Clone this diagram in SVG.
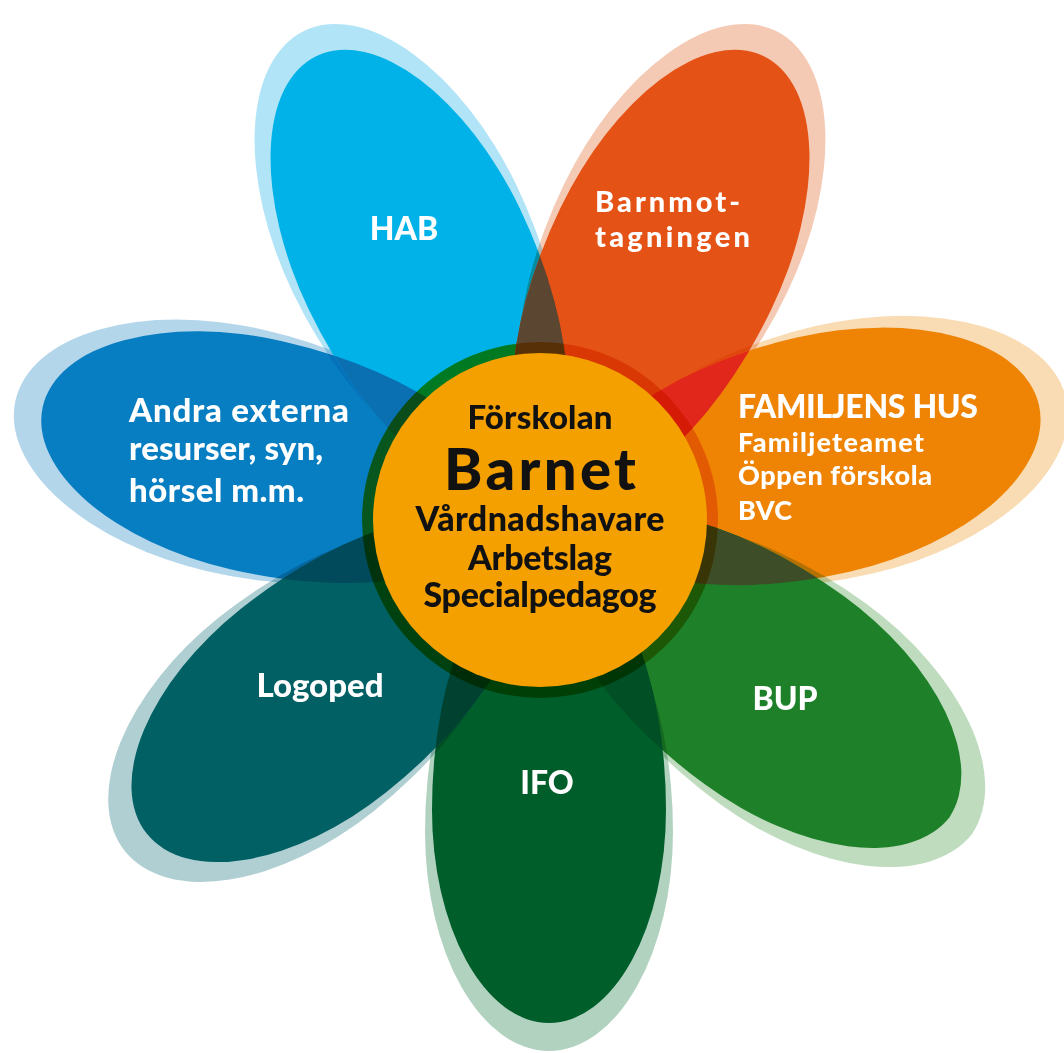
<svg xmlns="http://www.w3.org/2000/svg" xmlns:xlink="http://www.w3.org/1999/xlink" width="1064" height="1053" viewBox="0 0 1064 1053">
<style>
.sh{mix-blend-mode:multiply}
.lbl{font-family:Lato,"Open Sans","Liberation Sans",sans-serif;font-weight:900;fill:#ffffff}
.ctr{font-family:Lato,"Open Sans","Liberation Sans",sans-serif;font-weight:900;fill:#111111;text-anchor:middle}
</style>
<defs>
<path id="m-andra" d="M33 0A257 117 0 0 1 290 -117A220 117 0 0 1 510 0A220 117 0 0 1 290 117A257 117 0 0 1 33 0Z" transform="translate(540 520) rotate(192.86)"/>
<path id="s-andra" d="M55 0A257 124 0 0 1 312 -124A226 124 0 0 1 538 0A226 124 0 0 1 312 124A257 124 0 0 1 55 0Z" transform="translate(540 520) rotate(192.86)"/>
<path id="m-hab" d="M33 0A257 117 0 0 1 290 -117A225 117 0 0 1 515 0A225 117 0 0 1 290 117A257 117 0 0 1 33 0Z" transform="translate(540 520) rotate(-115.71)"/>
<path id="s-hab" d="M55 0A257 124 0 0 1 312 -124A231 124 0 0 1 543 0A231 124 0 0 1 312 124A257 124 0 0 1 55 0Z" transform="translate(540 520) rotate(-115.71)"/>
<path id="m-barn" d="M33 0A257 117 0 0 1 290 -117A225 117 0 0 1 515 0A225 117 0 0 1 290 117A257 117 0 0 1 33 0Z" transform="translate(540 520) rotate(-64.29)"/>
<path id="s-barn" d="M55 0A257 124 0 0 1 312 -124A231 124 0 0 1 543 0A231 124 0 0 1 312 124A257 124 0 0 1 55 0Z" transform="translate(540 520) rotate(-64.29)"/>
<path id="m-fam" d="M33 0A257 120 0 0 1 290 -120A222 120 0 0 1 512 0A222 120 0 0 1 290 120A257 120 0 0 1 33 0Z" transform="translate(540 520) rotate(-13)"/>
<path id="s-fam" d="M55 0A257 127 0 0 1 312 -127A228 127 0 0 1 540 0A228 127 0 0 1 312 127A257 127 0 0 1 55 0Z" transform="translate(540 520) rotate(-13)"/>
<path id="m-bup" d="M33 0A257 117 0 0 1 290 -117A216 120 0 0 1 506 0A216 120 0 0 1 290 117A257 117 0 0 1 33 0Z" transform="translate(540 520) rotate(36)"/>
<path id="s-bup" d="M55 0A257 124 0 0 1 312 -124A222 127 0 0 1 534 0A222 127 0 0 1 312 124A257 124 0 0 1 55 0Z" transform="translate(540 520) rotate(36)"/>
<path id="m-ifo" d="M33 0A257 117 0 0 1 290 -117A213 117 0 0 1 503 0A213 117 0 0 1 290 117A257 117 0 0 1 33 0Z" transform="translate(549 520) rotate(90)"/>
<path id="s-ifo" d="M55 0A257 124 0 0 1 312 -124A219 124 0 0 1 531 0A219 124 0 0 1 312 124A257 124 0 0 1 55 0Z" transform="translate(549 520) rotate(90)"/>
<path id="m-logo" d="M33 0A257 117 0 0 1 290 -117A213 117 0 0 1 503 0A213 117 0 0 1 290 117A257 117 0 0 1 33 0Z" transform="translate(540 520) rotate(141.43)"/>
<path id="s-logo" d="M55 0A257 124 0 0 1 312 -124A219 124 0 0 1 531 0A219 124 0 0 1 312 124A257 124 0 0 1 55 0Z" transform="translate(540 520) rotate(141.43)"/>
<clipPath id="c-andra"><use xlink:href="#m-andra"/></clipPath>
<clipPath id="c-hab"><use xlink:href="#m-hab"/></clipPath>
<clipPath id="c-barn"><use xlink:href="#m-barn"/></clipPath>
<clipPath id="c-fam"><use xlink:href="#m-fam"/></clipPath>
<clipPath id="c-bup"><use xlink:href="#m-bup"/></clipPath>
<clipPath id="c-ifo"><use xlink:href="#m-ifo"/></clipPath>
</defs>
<rect width="1064" height="1053" fill="#ffffff"/>
<g id="petal-andra">
<use xlink:href="#s-andra" class="sh" fill="#b4d6eb"/>
<use xlink:href="#m-andra" fill="#077ec1"/>
</g>
<g id="petal-hab">
<use xlink:href="#s-hab" class="sh" fill="#b2e4f7"/>
<use xlink:href="#m-hab" fill="#00b2e7"/>
</g>
<g id="petal-barnmottagningen">
<use xlink:href="#s-barn" class="sh" fill="#f5cab5"/>
<use xlink:href="#m-barn" fill="#e55215"/>
</g>
<g id="petal-familjens-hus">
<use xlink:href="#s-fam" class="sh" fill="#f9dcb3"/>
<use xlink:href="#m-fam" fill="#ef8304"/>
</g>
<g id="petal-bup">
<use xlink:href="#s-bup" class="sh" fill="#bfdcbf"/>
<use xlink:href="#m-bup" fill="#1e8129"/>
</g>
<g id="petal-ifo">
<use xlink:href="#s-ifo" class="sh" fill="#b2d2c0"/>
<use xlink:href="#m-ifo" fill="#005e2b"/>
</g>
<g id="petal-logoped">
<use xlink:href="#s-logo" class="sh" fill="#b0cfd2"/>
<use xlink:href="#m-logo" fill="#006064"/>
</g>
<g id="overlaps">
<use xlink:href="#m-hab" clip-path="url(#c-andra)" fill="#0a70b2"/>
<use xlink:href="#m-barn" clip-path="url(#c-hab)" fill="#5b4631"/>
<use xlink:href="#m-fam" clip-path="url(#c-barn)" fill="#e1271b"/>
<use xlink:href="#m-bup" clip-path="url(#c-fam)" fill="#3c4d27"/>
<use xlink:href="#m-ifo" clip-path="url(#c-bup)" fill="#004f25"/>
<use xlink:href="#m-logo" clip-path="url(#c-ifo)" fill="#00412f"/>
<use xlink:href="#m-logo" clip-path="url(#c-andra)" fill="#004a5b"/>
</g>
<g id="connectors"/>
<g id="labels">
<text class="lbl" x="404" y="240" font-size="32" text-anchor="middle">HAB</text>
<text class="lbl" x="595" y="212" font-size="29" textLength="145">Barnmot-</text>
<text class="lbl" x="595" y="247" font-size="29" textLength="155">tagningen</text>
<text class="lbl" x="129" y="422" font-size="33" textLength="220">Andra externa</text>
<text class="lbl" x="129" y="460" font-size="33" textLength="194">resurser, syn,</text>
<text class="lbl" x="129" y="502" font-size="33" textLength="175">hörsel m.m.</text>
<text class="lbl" x="738" y="418" font-size="32" textLength="240">FAMILJENS HUS</text>
<text class="lbl" x="738" y="452" font-size="27" textLength="186">Familjeteamet</text>
<text class="lbl" x="738" y="485" font-size="27" textLength="194">Öppen förskola</text>
<text class="lbl" x="738" y="520" font-size="27" textLength="54">BVC</text>
<text class="lbl" x="785" y="710" font-size="32" text-anchor="middle">BUP</text>
<text class="lbl" x="547" y="794" font-size="32" text-anchor="middle">IFO</text>
<text class="lbl" x="320" y="697" font-size="33" text-anchor="middle">Logoped</text>
</g>
<g id="center-barnet">
<circle cx="540" cy="520" r="178" fill="#f0a000" class="sh" opacity="0.85"/>
<circle cx="540" cy="520" r="167" fill="#f3a000"/>
<text class="ctr" x="540" y="429" font-size="33" textLength="145">Förskolan</text>
<text class="ctr" x="540" y="490" font-size="58" textLength="192">Barnet</text>
<text class="ctr" x="540" y="531" font-size="34" textLength="249">Vårdnadshavare</text>
<text class="ctr" x="540" y="570" font-size="34" textLength="144">Arbetslag</text>
<text class="ctr" x="540" y="607" font-size="34" textLength="233">Specialpedagog</text>
</g>
</svg>
